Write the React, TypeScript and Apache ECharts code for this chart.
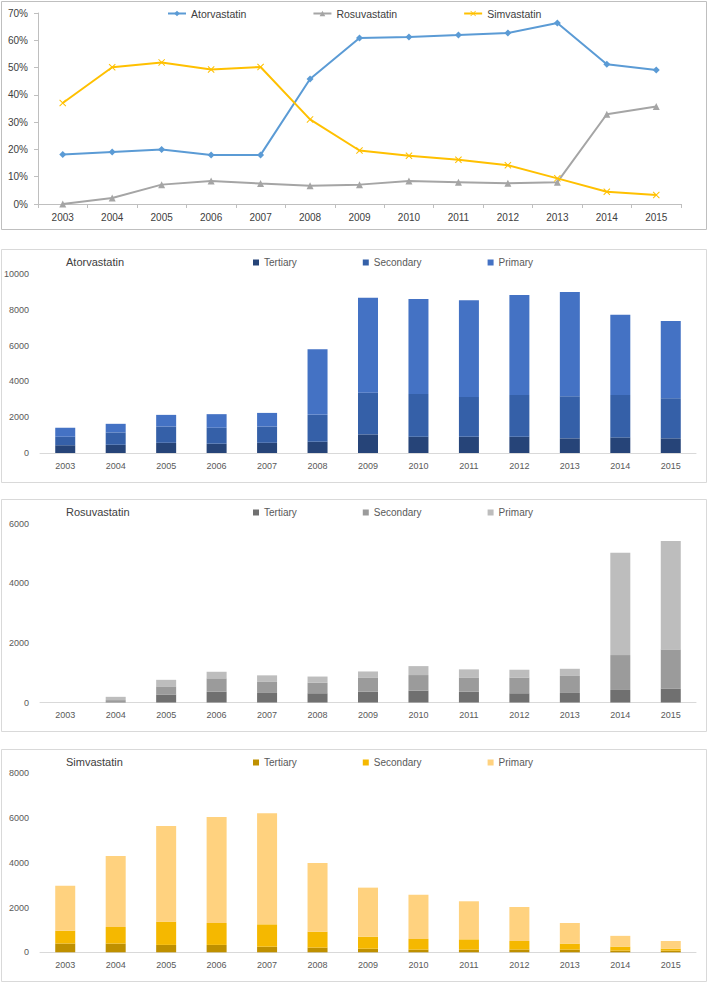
import React, { useEffect, useRef } from "react";
import * as echarts from "echarts";

const years = ["2003","2004","2005","2006","2007","2008","2009","2010","2011","2012","2013","2014","2015"];

// Share of prescriptions (%)
const shareAtorva = [18.1, 19.1, 20.0, 18.0, 18.0, 45.8, 60.8, 61.2, 61.9, 62.7, 66.3, 51.2, 49.1];
const shareRosuva = [0, 2.2, 7.1, 8.4, 7.5, 6.7, 7.1, 8.4, 8.0, 7.6, 8.0, 32.9, 35.7];
const shareSimva = [37.0, 50.1, 51.9, 49.3, 50.2, 31.0, 19.6, 17.7, 16.2, 14.2, 9.4, 4.5, 3.3];

const atorvaTertiary = [430, 460, 570, 520, 570, 630, 1040, 910, 910, 910, 820, 870, 820];
const atorvaSecondary = [480, 690, 910, 890, 910, 1500, 2330, 2390, 2220, 2330, 2350, 2370, 2240];
const atorvaPrimary = [500, 480, 650, 760, 760, 3670, 5300, 5300, 5410, 5590, 5830, 4480, 4310];

const rosuvaTertiary = [0, 10, 270, 360, 320, 310, 360, 400, 360, 310, 320, 420, 470];
const rosuvaSecondary = [0, 70, 270, 450, 370, 350, 480, 520, 480, 530, 570, 1170, 1310];
const rosuvaPrimary = [0, 110, 220, 220, 220, 210, 200, 300, 270, 260, 240, 3430, 3630];

const simvaTertiary = [390, 390, 330, 330, 250, 210, 160, 120, 120, 120, 120, 75, 75];
const simvaSecondary = [570, 740, 1040, 980, 1000, 710, 540, 480, 460, 390, 270, 180, 90];
const simvaPrimary = [2010, 3170, 4280, 4740, 4960, 3070, 2190, 1970, 1700, 1520, 920, 480, 340];

const FONT = "'Liberation Sans', Arial, sans-serif";
const X_MARK = "path://M0,1 L1,0 L5,4 L9,0 L10,1 L6,5 L10,9 L9,10 L5,6 L1,10 L0,9 L4,5 Z";

export default function App() {
  const ref = useRef<HTMLDivElement>(null);
  useEffect(() => {
    document.body.style.margin = "0";
    const chart = echarts.init(ref.current!, undefined, { renderer: "svg" });

    const panels = [
      { name: "Atorvastatin", key: "A", data: [atorvaTertiary, atorvaSecondary, atorvaPrimary], colors: ["#264478", "#3560A8", "#4472C4"], max: 10000, interval: 2000, top: 274, legendY: 257.5, border: [249, 482] },
      { name: "Rosuvastatin", key: "R", data: [rosuvaTertiary, rosuvaSecondary, rosuvaPrimary], colors: ["#707070", "#9B9B9B", "#BDBDBD"], max: 6000, interval: 2000, top: 523.5, legendY: 507.5, border: [499, 731] },
      { name: "Simvastatin", key: "S", data: [simvaTertiary, simvaSecondary, simvaPrimary], colors: ["#BF9000", "#F5B800", "#FFD27F"], max: 8000, interval: 2000, top: 773.3, legendY: 757.5, border: [749, 981] },
    ];
    const levels = ["Tertiary", "Secondary", "Primary"];

    const grids: any[] = [{ left: 38, top: 13, width: 643, height: 191 }];
    const xAxes: any[] = [{
      type: "category", gridIndex: 0, data: years, boundaryGap: true,
      axisLine: { lineStyle: { color: "#BFBFBF", width: 1 } },
      axisTick: { show: true, length: 4, interval: 0, lineStyle: { color: "#BFBFBF" } },
      axisLabel: { color: "#404040", fontSize: 10, fontFamily: FONT, margin: 8, interval: 0 },
    }];
    const yAxes: any[] = [{
      type: "value", gridIndex: 0, min: 0, max: 0.7, interval: 0.1,
      axisLine: { show: true, lineStyle: { color: "#BFBFBF" } },
      axisTick: { show: true, length: 4, lineStyle: { color: "#BFBFBF" } },
      splitLine: { show: false },
      axisLabel: { color: "#404040", fontSize: 10, fontFamily: FONT, margin: 10, formatter: (v: number) => Math.round(v * 100) + "%" },
    }];
    const series: any[] = [
      { name: "Atorvastatin", type: "line", xAxisIndex: 0, yAxisIndex: 0, data: shareAtorva.map(v => v / 100), color: "#5B9BD5", symbol: "diamond", symbolSize: 7, lineStyle: { width: 2 } },
      { name: "Rosuvastatin", type: "line", xAxisIndex: 0, yAxisIndex: 0, data: shareRosuva.map(v => v / 100), color: "#A5A5A5", symbol: "triangle", symbolSize: 7, lineStyle: { width: 2 } },
      { name: "Simvastatin", type: "line", xAxisIndex: 0, yAxisIndex: 0, data: shareSimva.map(v => v / 100), color: "#FFC000", symbol: X_MARK, symbolSize: 7, lineStyle: { width: 2 } },
    ];
    const legends: any[] = [{
      left: 167, top: 8, padding: 0, itemGap: 66, itemWidth: 18, itemHeight: 7,
      data: ["Atorvastatin", "Rosuvastatin", "Simvastatin"],
      textStyle: { color: "#404040", fontSize: 10.5, fontFamily: FONT },
    }];
    const titles: any[] = [];
    const graphics: any[] = [
      { type: "rect", shape: { x: 1.5, y: 1.5, width: 705, height: 228 }, style: { fill: "none", stroke: "#BFBFBF", lineWidth: 1 }, z: -1 },
    ];

    panels.forEach((p, i) => {
      const gi = i + 1;
      grids.push({ left: 40, top: p.top, width: 656, height: 179 });
      xAxes.push({
        type: "category", gridIndex: gi, data: years,
        axisLine: { lineStyle: { color: "#D9D9D9" } },
        axisTick: { show: false },
        axisLabel: { color: "#595959", fontSize: 9, fontFamily: FONT, margin: 8, interval: 0 },
      });
      yAxes.push({
        type: "value", gridIndex: gi, min: 0, max: p.max, interval: p.interval,
        axisLine: { show: false }, axisTick: { show: false }, splitLine: { show: false },
        axisLabel: { color: "#595959", fontSize: 9, fontFamily: FONT, margin: 11, formatter: (v: number) => String(v) },
      });
      levels.forEach((lv, j) => {
        series.push({
          name: p.key + "|" + lv, type: "bar", stack: "s" + gi, xAxisIndex: gi, yAxisIndex: gi,
          data: p.data[j], barWidth: 20, itemStyle: { color: p.colors[j] },
        });
      });
      legends.push({
        left: 253, top: p.legendY, padding: 0, itemGap: 66, itemWidth: 6, itemHeight: 6, icon: "rect",
        data: levels.map(lv => p.key + "|" + lv),
        formatter: (n: string) => n.split("|")[1],
        textStyle: { color: "#595959", fontSize: 10, fontFamily: FONT },
      });
      titles.push({
        text: p.name, left: 66, top: p.legendY - 1, padding: 0,
        textStyle: { color: "#404040", fontSize: 11, fontWeight: "normal", fontFamily: FONT },
      });
      graphics.push({ type: "rect", shape: { x: 1.5, y: p.border[0] + 0.5, width: 705, height: p.border[1] - p.border[0] }, style: { fill: "none", stroke: "#D9D9D9", lineWidth: 1 }, z: -1 });
    });

    chart.setOption({
      animation: false,
      backgroundColor: "#FFFFFF",
      title: titles,
      legend: legends,
      grid: grids,
      xAxis: xAxes,
      yAxis: yAxes,
      series,
      graphic: graphics,
    });
    return () => chart.dispose();
  }, []);
  return <div ref={ref} style={{ width: 708, height: 982 }} />;
}
